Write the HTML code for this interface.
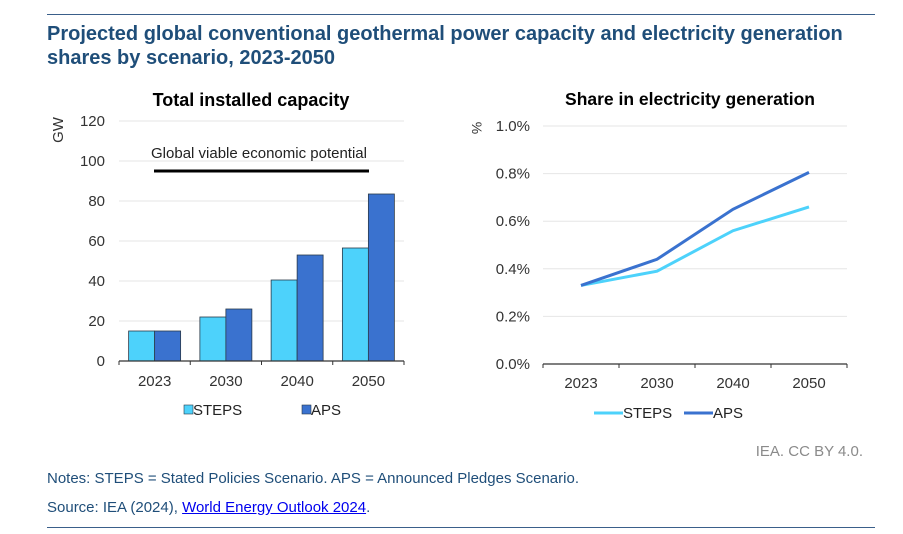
<!DOCTYPE html>
<html><head><meta charset="utf-8"><style>
body{margin:0;background:#fff;font-family:"Liberation Sans",sans-serif;}
#root{position:relative;width:903px;height:534px;overflow:hidden;}
.t{position:absolute;}
</style></head><body><div id="root">
<div class="t" style="left:47px;top:14px;width:828px;height:1px;background:#3a5f8a"></div>
<div class="t" style="left:47px;top:22px;font-size:20px;font-weight:bold;color:#1f4e79;line-height:24px">Projected global conventional geothermal power capacity and electricity generation<br>shares by scenario, 2023-2050</div>
<svg class="t" style="left:0;top:0" width="903" height="534" id="svg" font-family="Liberation Sans, sans-serif"></svg>
<div class="t" style="right:40px;top:443px;font-size:15px;color:#8a8a8a">IEA. CC BY 4.0.</div>
<div class="t" style="left:47px;top:470px;font-size:15px;color:#1f4e79">Notes: STEPS = Stated Policies Scenario. APS = Announced Pledges Scenario.</div>
<div class="t" style="left:47px;top:499px;font-size:15px;color:#1f4e79">Source: IEA (2024), <a href="#" style="color:#0000ee">World Energy Outlook 2024</a>.</div>
<div class="t" style="left:47px;top:527px;width:828px;height:1px;background:#3a5f8a"></div>
</div>
<script>
const categories=["2023","2030","2040","2050"];
const capSteps=[15,22,40.5,56.5];
const capAps=[15,26,53,83.5];
const potential=95;
const capTicks=[0,20,40,60,80,100,120];
const shareSteps=[0.33,0.39,0.56,0.66];
const shareAps=[0.33,0.44,0.65,0.805];
const shareTicks=[0,0.2,0.4,0.6,0.8,1.0];
const NS="http://www.w3.org/2000/svg";
const svg=document.getElementById('svg');
function mk(tag,at,name,txt){const e=document.createElementNS(NS,tag);for(const k in at)e.setAttribute(k,at[k]);


if(txt!==undefined)e.textContent=txt;svg.appendChild(e);return e;}
const STEPS="#4dd2fb",APS="#3a72cf";
const L={x0:119,x1:404,y0:361,ymax:120,h:240};
const ly=v=>L.y0-v/L.ymax*L.h;
const cw=(L.x1-L.x0)/categories.length;
mk('text',{x:251,y:106,'font-size':18,'font-weight':'bold','text-anchor':'middle',fill:'#000'},'left-chart-title','Total installed capacity');
capTicks.forEach(t=>{if(t>0)mk('line',{x1:L.x0,x2:L.x1,y1:ly(t),y2:ly(t),stroke:'#e6e6e6'},'gridline');
mk('text',{x:105,y:ly(t)+5,'font-size':15,'text-anchor':'end',fill:'#333'},'y-tick-label',t);});
mk('text',{x:0,y:0,'font-size':15,fill:'#333',transform:'translate(63,130) rotate(-90)','text-anchor':'middle'},'y-axis-title','GW');
categories.forEach((c,i)=>{const cx=L.x0+cw*(i+0.5),bw=26;
mk('rect',{x:cx-bw,y:ly(capSteps[i]),width:bw,height:ly(0)-ly(capSteps[i]),fill:STEPS,stroke:'#2a3a4a','stroke-width':0.8},'bar-steps-'+c);
mk('rect',{x:cx,y:ly(capAps[i]),width:bw,height:ly(0)-ly(capAps[i]),fill:APS,stroke:'#2a3a4a','stroke-width':0.8},'bar-aps-'+c);
mk('text',{x:cx,y:386,'font-size':15,'text-anchor':'middle',fill:'#333'},'x-tick-label',c);
mk('line',{x1:L.x0+cw*i,x2:L.x0+cw*i,y1:L.y0,y2:L.y0+4,stroke:'#333'},'x-tick');});
mk('line',{x1:L.x1,x2:L.x1,y1:L.y0,y2:L.y0+4,stroke:'#333'},'x-tick');
mk('line',{x1:L.x0,x2:L.x1,y1:L.y0,y2:L.y0,stroke:'#333','stroke-width':1.2},'x-axis');
mk('line',{x1:154,x2:369,y1:ly(potential),y2:ly(potential),stroke:'#000','stroke-width':3},'potential-line');
mk('text',{x:259,y:158,'font-size':15,'text-anchor':'middle',fill:'#222'},'potential-label','Global viable economic potential');
mk('rect',{x:184,y:405,width:9,height:9,fill:STEPS,stroke:'#2a3a4a','stroke-width':0.6},'legend-steps-swatch');
mk('text',{x:193,y:415,'font-size':15,fill:'#222'},'legend-steps','STEPS');
mk('rect',{x:302,y:405,width:9,height:9,fill:APS,stroke:'#2a3a4a','stroke-width':0.6},'legend-aps-swatch');
mk('text',{x:311,y:415,'font-size':15,fill:'#222'},'legend-aps','APS');
const R={x0:543,x1:847,y0:364,h:238,ymax:1.0};
const ry=v=>R.y0-v/R.ymax*R.h;
const rw=(R.x1-R.x0)/categories.length;
const rx=i=>R.x0+rw*(i+0.5);
mk('text',{x:690,y:105,'font-size':17.5,'font-weight':'bold','text-anchor':'middle',fill:'#000'},'right-chart-title','Share in electricity generation');
shareTicks.forEach(t=>{if(t>0)mk('line',{x1:R.x0,x2:R.x1,y1:ry(t),y2:ry(t),stroke:'#e6e6e6'},'gridline');
mk('text',{x:530,y:ry(t)+5,'font-size':15,'text-anchor':'end',fill:'#333'},'y-tick-label',t.toFixed(1)+'%');});
mk('text',{x:0,y:0,'font-size':14,fill:'#333',transform:'translate(472,128) rotate(90)','text-anchor':'middle'},'y-axis-title','%');
categories.forEach((c,i)=>{mk('text',{x:rx(i),y:388,'font-size':15,'text-anchor':'middle',fill:'#333'},'x-tick-label',c);
mk('line',{x1:R.x0+rw*i,x2:R.x0+rw*i,y1:R.y0,y2:R.y0+4,stroke:'#333'},'x-tick');});
mk('line',{x1:R.x1,x2:R.x1,y1:R.y0,y2:R.y0+4,stroke:'#333'},'x-tick');
mk('line',{x1:R.x0,x2:R.x1,y1:R.y0,y2:R.y0,stroke:'#333','stroke-width':1.2},'x-axis');
mk('polyline',{points:shareSteps.map((v,i)=>rx(i)+','+ry(v)).join(' '),fill:'none',stroke:STEPS,'stroke-width':3},'line-steps');
mk('polyline',{points:shareAps.map((v,i)=>rx(i)+','+ry(v)).join(' '),fill:'none',stroke:APS,'stroke-width':3},'line-aps');
mk('line',{x1:594,x2:623,y1:413,y2:413,stroke:STEPS,'stroke-width':3},'legend-steps-line');
mk('text',{x:623,y:418,'font-size':15,fill:'#222'},'legend-steps','STEPS');
mk('line',{x1:684,x2:713,y1:413,y2:413,stroke:APS,'stroke-width':3},'legend-aps-line');
mk('text',{x:713,y:418,'font-size':15,fill:'#222'},'legend-aps','APS');
</script></body></html>
